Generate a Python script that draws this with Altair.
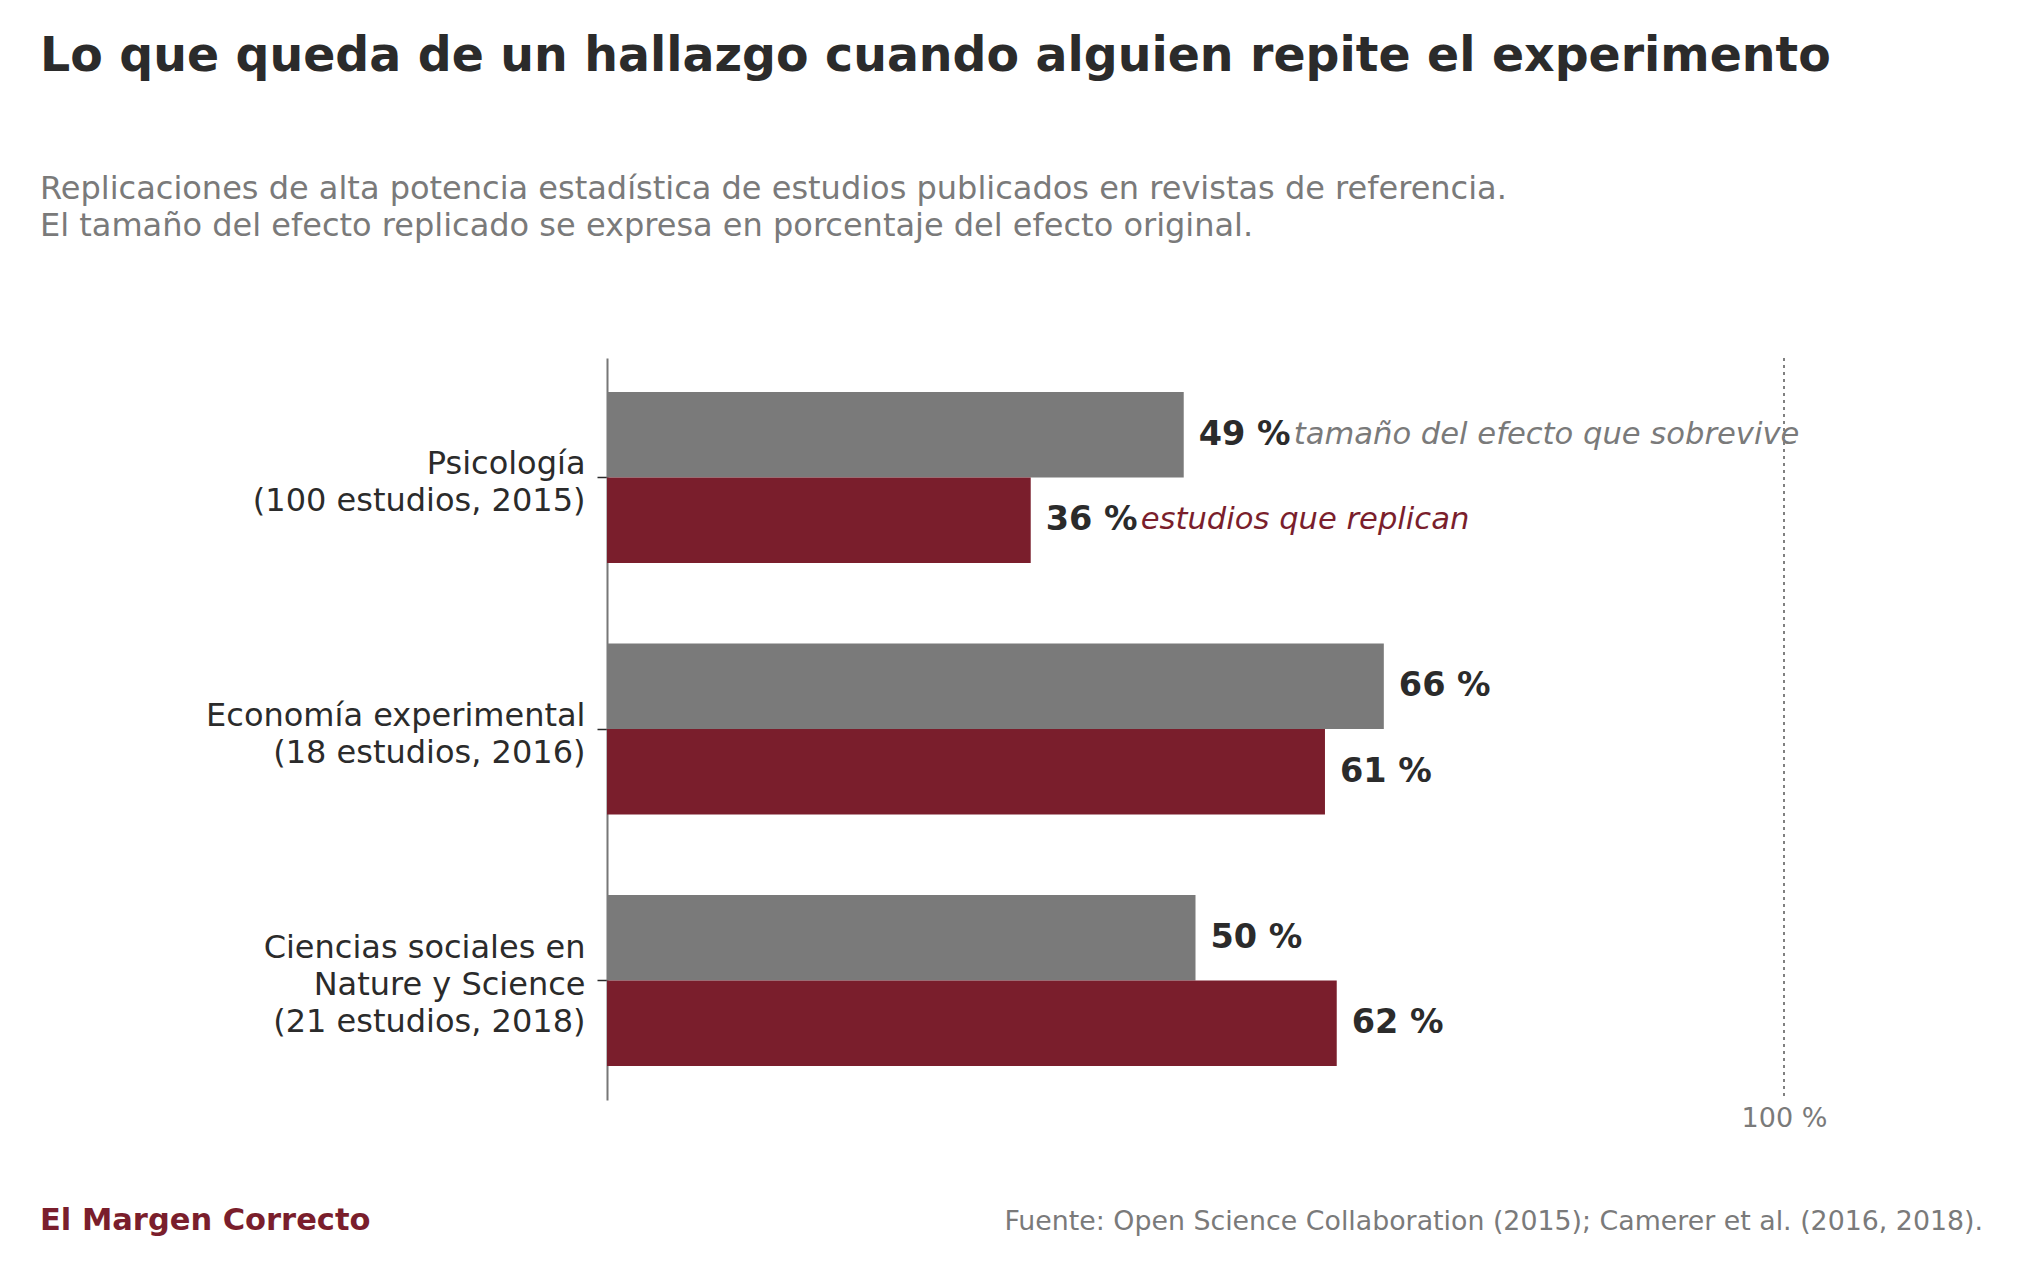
import altair as alt
import pandas as pd

# ---- data ----
categorias = [
    "Psicología\n(100 estudios, 2015)",
    "Economía experimental\n(18 estudios, 2016)",
    "Ciencias sociales en\nNature y Science\n(21 estudios, 2018)",
]
series = ["tamaño del efecto que sobrevive", "estudios que replican"]
sobrevive = [49, 66, 50]
replican = [36, 61, 62]

titulo = "Lo que queda de un hallazgo cuando alguien repite el experimento"
subtitulo = [
    "Replicaciones de alta potencia estadística de estudios publicados en revistas de referencia.",
    "El tamaño del efecto replicado se expresa en porcentaje del efecto original.",
]
marca = "El Margen Correcto"
fuente = "Fuente: Open Science Collaboration (2015); Camerer et al. (2016, 2018)."

GRIS = "#7a7a7a"
ROJO = "#7a1e2c"
OSCURO = "#2b2b2b"
FONT = "DejaVu Sans"

rows = []
for i, c in enumerate(categorias):
    rows.append({"categoria": c, "serie": series[0], "valor": sobrevive[i],
                 "etiqueta": f"{sobrevive[i]} %", "nota": series[0] if i == 0 else ""})
    rows.append({"categoria": c, "serie": series[1], "valor": replican[i],
                 "etiqueta": f"{replican[i]} %", "nota": series[1] if i == 0 else ""})
df = pd.DataFrame(rows)

color_scale = alt.Scale(domain=series, range=[GRIS, ROJO])

y_enc = alt.Y(
    "categoria:N", sort=categorias, title=None,
    scale=alt.Scale(paddingInner=0.32, paddingOuter=0.135),
    axis=alt.Axis(
        labelExpr="split(datum.label, '\\n')",
        labelOffset={"expr": "7 - 20 * (length(split(datum.value, '\\n')) - 1)"},
        labelFontSize=32, labelColor=OSCURO, labelFont=FONT,
        labelLineHeight=37, labelPadding=12, labelAlign="right",
        labelBaseline="middle", labelLimit=0,
        domainColor="#777777", domainWidth=2,
        tickColor=OSCURO, tickSize=10, tickWidth=1.5,
        grid=False,
    ),
)
yoff_enc = alt.YOffset("serie:N", sort=series,
                       scale=alt.Scale(paddingInner=0, paddingOuter=0))

x_scale = alt.Scale(domain=[0, 100], nice=False, zero=True)

base = alt.Chart(df)

bars = base.mark_bar().encode(
    y=y_enc,
    yOffset=yoff_enc,
    x=alt.X("valor:Q", scale=x_scale, title=None,
            axis=alt.Axis(values=[100], labelExpr="datum.value + ' %'",
                          domain=False, ticks=False, grid=False,
                          labelFlush=False,
                          labelFontSize=27, labelColor=GRIS, labelFont=FONT,
                          labelPadding=5)),
    color=alt.Color("serie:N", scale=color_scale, legend=None),
)

labels = base.mark_text(
    align="left", baseline="middle", dx=15, fontSize=33.5,
    fontWeight="bold", color=OSCURO, font=FONT,
).encode(
    y=alt.Y("categoria:N", sort=categorias),
    yOffset=alt.YOffset("serie:N", sort=series),
    x=alt.X("valor:Q"),
    text="etiqueta:N",
)

notas = base.transform_filter("datum.nota != ''").mark_text(
    align="left", baseline="middle", dx=110, fontSize=30.6,
    fontStyle="italic", font=FONT,
).encode(
    y=alt.Y("categoria:N", sort=categorias),
    yOffset=alt.YOffset("serie:N", sort=series),
    x=alt.X("valor:Q"),
    text="nota:N",
    color=alt.Color("serie:N", scale=color_scale, legend=None),
)

regla = alt.Chart(pd.DataFrame({"ref": [100]})).mark_rule(
    strokeDash=[3, 4], color="#808080", strokeWidth=2
).encode(x=alt.X("ref:Q"))

pie_izq = alt.Chart(pd.DataFrame({"t": [marca]})).mark_text(
    align="left", baseline="alphabetic", fontSize=30.5, fontWeight="bold",
    color=ROJO, font=FONT,
).encode(x=alt.value(-567), y=alt.value(872), text="t:N")

pie_der = alt.Chart(pd.DataFrame({"t": [fuente]})).mark_text(
    align="right", baseline="alphabetic", fontSize=26.8,
    color=GRIS, font=FONT,
).encode(x=alt.value(1376), y=alt.value(872), text="t:N")

chart = alt.layer(bars, labels, notas, regla, pie_izq, pie_der).properties(
    width=1177,
    height=742,
    autosize=alt.AutoSizeParams(type="none"),
    padding={"left": 599, "top": 350, "right": 231, "bottom": 168},
    title=alt.Title(
        text=titulo,
        subtitle=subtitulo,
        anchor="start",
        frame="group",
        dx=-567,
        offset=114,
        fontSize=47.4,
        fontWeight="bold",
        color=OSCURO,
        font=FONT,
        subtitleFont=FONT,
        subtitleFontSize=32,
        subtitleColor=GRIS,
        subtitleLineHeight=37,
        subtitlePadding=93,
    ),
).configure(font=FONT).configure_view(stroke=None, strokeWidth=0)

chart.save("out.html", embed_options={"renderer": "svg", "actions": False})
